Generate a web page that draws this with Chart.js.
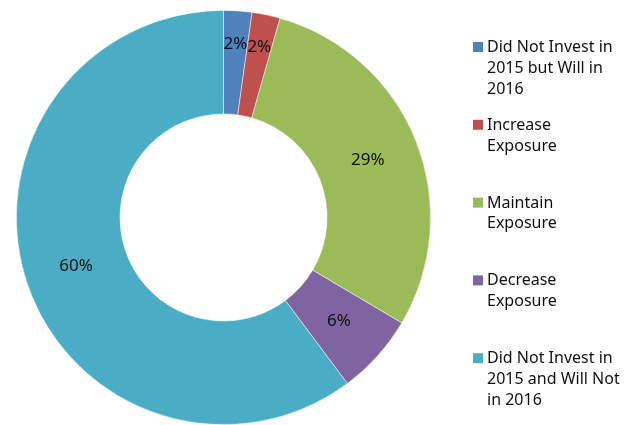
<!DOCTYPE html>
<html>
<head>
<meta charset="utf-8">
<script src="https://cdn.jsdelivr.net/npm/chart.js@4.4.0/dist/chart.umd.min.js"></script>
<style>
  html, body { margin: 0; padding: 0; background: #fff; }
  #wrap { width: 643px; height: 425px; }
</style>
</head>
<body>
<div id="wrap"><canvas id="chart" width="643" height="425"></canvas></div>
<script>
// categories (legend lines) and values
var categories = [
    ['Did Not Invest in', '2015 but Will in', '2016'],
    ['Increase', 'Exposure'],
    ['Maintain', 'Exposure'],
    ['Decrease', 'Exposure'],
    ['Did Not Invest in', '2015 and Will Not', 'in 2016']
];
var shares = [2.2, 2.2, 29.1, 6.3, 60.2];
var colors = ['#4F81BD', '#C0504D', '#9BBB59', '#8064A2', '#4BACC6'];

var FONT = '"Noto Sans", "DejaVu Sans", sans-serif';

// percent labels inside the ring, small slices pushed outward
var sliceLabels = {
    id: 'sliceLabels',
    afterDatasetsDraw: function (chart) {
        var ctx = chart.ctx;
        var meta = chart.getDatasetMeta(0);
        var data = chart.data.datasets[0].data;
        var total = data.reduce(function (a, b) { return a + b; }, 0);
        ctx.save();
        ctx.font = '17px ' + FONT;
        ctx.fillStyle = '#111';
        ctx.textAlign = 'center';
        ctx.textBaseline = 'middle';
        meta.data.forEach(function (arc, i) {
            var p = arc.getProps(['x', 'y', 'startAngle', 'endAngle', 'innerRadius', 'outerRadius'], true);
            var mid = (p.startAngle + p.endAngle) / 2;
            var pct = data[i] / total * 100;
            var r = pct < 5 ? p.outerRadius * 0.84 : (p.innerRadius + p.outerRadius) / 2;
            ctx.fillText(Math.round(pct) + '%', p.x + Math.cos(mid) * r, p.y + Math.sin(mid) * r);
        });
        ctx.restore();
    }
};

// legend on the right, fixed spacing per entry like the original
var sideLegend = {
    id: 'sideLegend',
    afterDraw: function (chart) {
        var ctx = chart.ctx;
        var bg = chart.data.datasets[0].backgroundColor;
        var x = 473, y0 = 52, step = 77.8, lh = 20.8;
        ctx.save();
        ctx.font = '16px ' + FONT;
        ctx.fillStyle = '#111';
        ctx.textAlign = 'left';
        ctx.textBaseline = 'alphabetic';
        chart.data.labels.forEach(function (lines, i) {
            var base = y0 + i * step;
            ctx.fillStyle = bg[i];
            ctx.fillRect(x, base - 10, 10, 10);
            ctx.fillStyle = '#111';
            lines.forEach(function (t, k) {
                ctx.fillText(t, x + 14, base + k * lh);
            });
        });
        ctx.restore();
    }
};

new Chart(document.getElementById('chart'), {
    type: 'doughnut',
    data: {
        labels: categories,
        datasets: [{
            data: shares,
            backgroundColor: colors,
            borderColor: 'rgba(255,255,255,0.6)',
            borderWidth: 0.8
        }]
    },
    options: {
        responsive: false,
        animation: false,
        cutout: '50%',
        layout: { padding: { left: 16, top: 10, right: 212, bottom: 0 } },
        plugins: {
            legend: { display: false },
            tooltip: { enabled: false }
        }
    },
    plugins: [sliceLabels, sideLegend]
});
</script>
</body>
</html>
